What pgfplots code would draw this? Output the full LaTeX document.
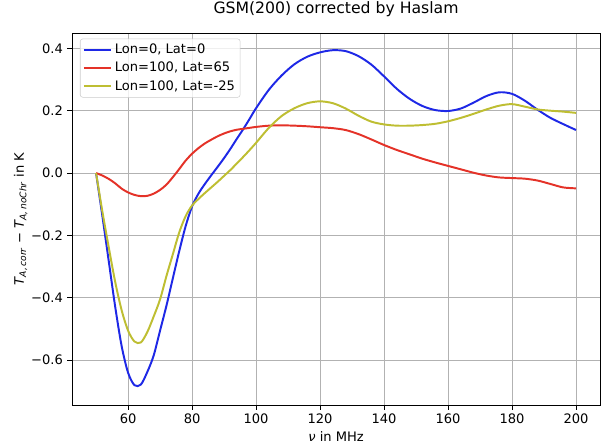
\documentclass[border=0pt]{standalone}
\usepackage{fontspec}
\setmainfont{DejaVu Sans}
\usepackage{pgfplots}
\pgfplotsset{compat=1.18}
\definecolor{mblue}{RGB}{30,40,230}
\definecolor{mred}{RGB}{228,50,40}
\definecolor{molive}{RGB}{190,190,50}
\begin{document}
\begin{tikzpicture}
\path[use as bounding box] (-55.2pt,-30.6pt) rectangle (405.9pt,310.3pt);
\begin{axis}[at={(0,0)}, anchor=south west, scale only axis,
  width=404.4pt, height=285pt,
  xmin=42.5, xmax=207.5, ymin=-0.744, ymax=0.449,
  xtick={60,80,100,120,140,160,180,200},
  ytick={-0.6,-0.4,-0.2,0,0.2,0.4},
  yticklabels={−0.6,−0.4,−0.2,0.0,0.2,0.4},
  /pgf/number format/assume math mode=true,
  tick align=outside, tick pos=left, major tick length=3.5pt,
  every tick/.style={black, line width=0.8pt},
  grid=major, grid style={line width=0.8pt, color=black!30},
  axis line style={line width=0.8pt},
  tick label style={font=\fontsize{10}{12}\selectfont},
  label style={font=\fontsize{10}{12}\selectfont},
  title={GSM(200) corrected by Haslam},
  title style={font=\fontsize{12}{14}\selectfont, at={(0.5,1)}, anchor=south, yshift=3pt},
  xlabel={{\itshape ν} in MHz},
  xlabel style={yshift=1pt},
  ylabel={{\itshape T}\textsubscript{\itshape A,\,corr} − {\itshape T}\textsubscript{\itshape A,\,noChr} in K},
  ylabel style={yshift=-4pt},
  legend style={at={(0.015,0.985)}, anchor=north west, draw=black!20, rounded corners=2pt,
    fill=white, fill opacity=0.8, text opacity=1, font=\fontsize{10}{12}\selectfont,
    inner sep=2pt, row sep=1pt},
  legend cell align=left,
  legend image code/.code={\draw[#1] (0pt,0pt) -- (21pt,0pt);},
]
\addplot[mblue, line width=1.5pt, smooth] coordinates {
(50,0) (52,-0.14) (54,-0.285) (56,-0.43) (58,-0.555) (60,-0.64) (62,-0.68) (64,-0.678)
(66,-0.638) (68,-0.585) (70,-0.505) (72,-0.425) (74,-0.337) (76,-0.25) (78,-0.17)
(80,-0.107) (82,-0.066) (84,-0.035) (86,-0.007) (88,0.02) (90,0.048) (92,0.078) (94,0.11)
(96,0.141) (98,0.174) (100,0.208) (104,0.267) (108,0.313) (112,0.349) (116,0.373)
(120,0.387) (124,0.394) (128,0.391) (132,0.375) (136,0.348) (140,0.31) (144,0.27)
(148,0.238) (152,0.215) (156,0.202) (160,0.199) (164,0.207) (168,0.226) (172,0.247)
(176,0.259) (180,0.254) (184,0.232) (188,0.203) (192,0.177) (196,0.157) (200,0.138)};
\addlegendentry{Lon=0, Lat=0}
\addplot[mred, line width=1.5pt, smooth] coordinates {
(50,0) (52,-0.008) (54,-0.019) (56,-0.033) (58,-0.05) (60,-0.062) (62,-0.07) (64,-0.074)
(66,-0.073) (68,-0.066) (70,-0.054) (72,-0.037) (74,-0.013) (76,0.013) (78,0.04)
(80,0.062) (82,0.08) (84,0.095) (86,0.107) (88,0.118) (90,0.127) (92,0.134) (94,0.139)
(96,0.142) (98,0.145) (100,0.148) (104,0.152) (108,0.153) (112,0.152) (116,0.15)
(120,0.147) (124,0.144) (128,0.138) (132,0.125) (136,0.108) (140,0.09) (144,0.074)
(148,0.06) (152,0.046) (156,0.034) (160,0.023) (164,0.012) (168,0.001) (172,-0.008)
(176,-0.014) (180,-0.016) (184,-0.018) (188,-0.024) (192,-0.035) (196,-0.046) (200,-0.049)};
\addlegendentry{Lon=100, Lat=65}
\addplot[molive, line width=1.5pt, smooth] coordinates {
(50,0) (52,-0.125) (54,-0.24) (56,-0.35) (58,-0.44) (60,-0.505) (62,-0.54) (64,-0.543)
(66,-0.51) (68,-0.46) (70,-0.405) (72,-0.33) (74,-0.26) (76,-0.19) (78,-0.138)
(80,-0.104) (82,-0.083) (84,-0.064) (86,-0.046) (88,-0.028) (90,-0.009) (92,0.01)
(94,0.031) (96,0.052) (98,0.074) (100,0.097) (104,0.145) (108,0.183) (112,0.208)
(116,0.224) (120,0.23) (124,0.224) (128,0.207) (132,0.184) (136,0.165) (140,0.156)
(144,0.152) (148,0.152) (152,0.154) (156,0.158) (160,0.166) (164,0.177) (168,0.19)
(172,0.204) (176,0.216) (180,0.221) (184,0.213) (188,0.204) (192,0.2) (196,0.197) (200,0.193)};
\addlegendentry{Lon=100, Lat=-25}
\end{axis}
\end{tikzpicture}
\end{document}
